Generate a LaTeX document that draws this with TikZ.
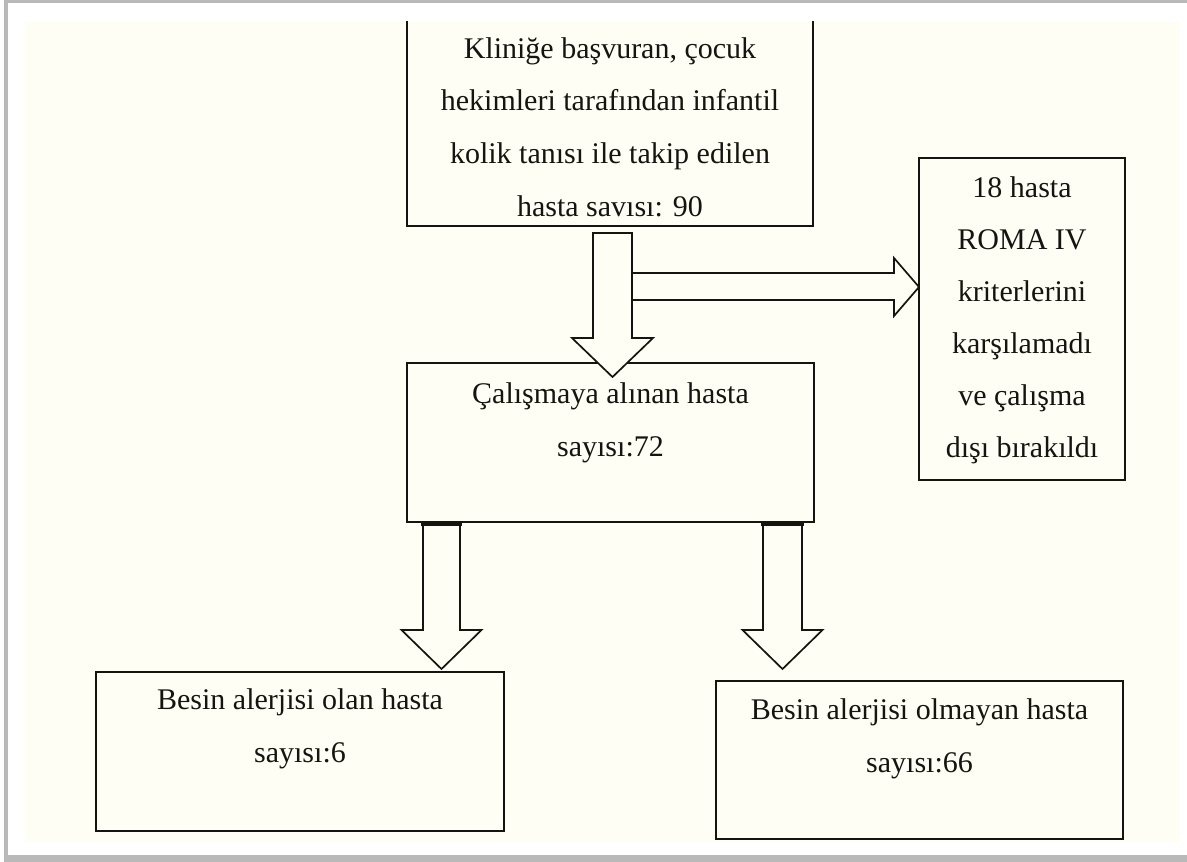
\documentclass[tikz,border=0pt]{standalone}
\usepackage{fontspec}
\setmainfont{Liberation Serif}
\definecolor{cream}{RGB}{255,254,245}
\definecolor{ink}{RGB}{22,20,16}
\definecolor{framegray}{RGB}{185,185,185}
\begin{document}
\begin{tikzpicture}[x=1pt,y=-1pt,
  box/.style={draw=ink, line width=2pt, fill=cream, rectangle, inner sep=0pt},
  txt/.style={font=\fontsize{30}{52.8}\selectfont, text=ink, align=center, anchor=base, inner sep=0pt},
  barrow/.style={draw=ink, line width=1.7pt, fill=cream, line join=miter},
  barcap/.style={draw=ink, line width=4pt}]
\useasboundingbox (0,0) rectangle (1187,862);
% page frame
\fill[framegray] (4,0) rectangle (1195,862);
\fill[white] (8,3) rectangle (1195,855);
\fill[cream] (25,21) rectangle (1180,842);
% boxes
\begin{scope}
  \clip (25,21) rectangle (1180,843);
  \node[box, minimum width=406pt, minimum height=236pt] (top) at (610,108) {};
\end{scope}
% (base anchor = baseline of the last line)
\node[txt] (toptxt) at (610,216.4) {Kliniğe başvuran, çocuk\\hekimleri tarafından infantil\\kolik tanısı ile takip edilen\\hasta savısı: 90};
\node[box, minimum width=407pt, minimum height=159pt] (mid) at (610.5,442.5) {};
\node[txt] (midtxt) at (610.5,456) {Çalışmaya alınan hasta\\sayısı:72};
\node[box, minimum width=206pt, minimum height=322pt] (excl) at (1022,319) {};
\node[txt, font=\fontsize{30}{52}\selectfont] (excltxt) at (1022,457) {18 hasta\\ROMA IV\\kriterlerini\\karşılamadı\\ve çalışma\\dışı bırakıldı};
\node[box, minimum width=408pt, minimum height=159pt] (yes) at (300,751.5) {};
\node[txt] (yestxt) at (300,762) {Besin alerjisi olan hasta\\sayısı:6};
\node[box, minimum width=407pt, minimum height=158pt] (no) at (919.5,760) {};
\node[txt] (notxt) at (919.5,772) {Besin alerjisi olmayan hasta\\sayısı:66};
% block arrows
\draw[barrow] (632,273) -- (894,273) -- (894,258) -- (919,287) -- (894,316) -- (894,300) -- (632,300);
\draw[barrow] (593,233) -- (632,233) -- (632,338) -- (653,338) -- (612.5,377) -- (572,338) -- (593,338) -- cycle;
\draw[barrow] (423,524) -- (460,524) -- (460,630) -- (481.5,630) -- (441.5,669) -- (401.5,630) -- (423,630) -- cycle;
\draw[barcap] (421,524) -- (462,524);
\draw[barrow] (763,524) -- (802,524) -- (802,630) -- (822.5,630) -- (782.5,669) -- (742.5,630) -- (763,630) -- cycle;
\draw[barcap] (761,524) -- (804,524);
\end{tikzpicture}
\end{document}
